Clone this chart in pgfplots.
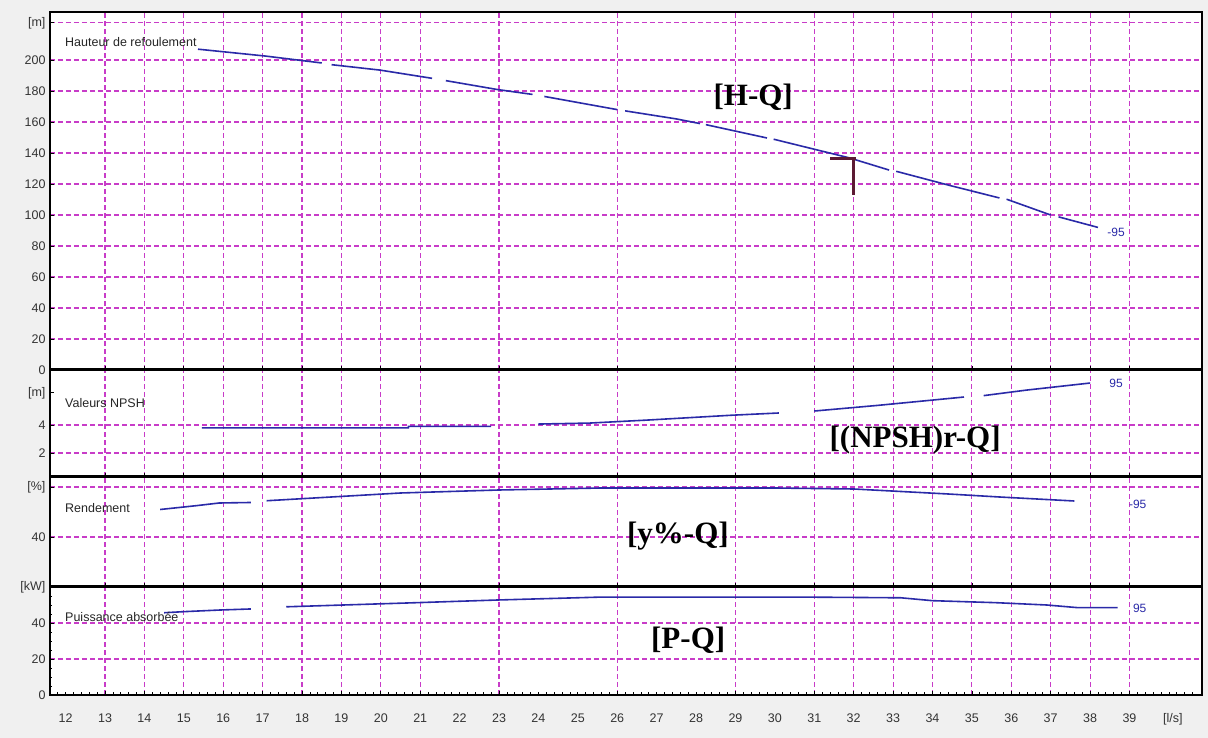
\documentclass[border=0pt]{standalone}
\usepackage{fontspec}
\setmainfont{Liberation Sans}
\newfontfamily\tnr{Liberation Serif}
\usepackage{pgfplots}
\pgfplotsset{compat=1.18}
\definecolor{curvec}{HTML}{2A2AA8}
\definecolor{gridm}{HTML}{C83CC8}
\definecolor{mrk}{HTML}{5C1A33}
\definecolor{bgc}{HTML}{F0F0F0}
\pgfplotsset{
  panel/.style={
    scale only axis, width=1152pt, xmin=11.604, xmax=40.84,
    anchor=south west,
    axis background/.style={fill=white},
    axis line style={line width=1.2pt,black},
    xtick={13,14,15,16,17,18,19,20,21,23,26,29,31,32,33,34,35,36,37,38,39},
    xticklabels={},
    xmajorgrids, ymajorgrids,
    major grid style={gridm, line width=1.1pt, dash pattern=on 5pt off 3pt},
    tick align=inside, tick pos=left,
    major tick length=4pt, minor tick length=2.5pt,
    tick style={black, line width=0.7pt},
    yticklabel style={font=\fontsize{12.5}{12.5}\selectfont, text=black!80, xshift=-1pt},
    /pgf/number format/assume math mode=true,
    unbounded coords=jump, clip=false,
  },
  crv/.style={curvec, line width=1.6pt, no markers},
}
\tikzset{
  ttl/.style={anchor=west, font=\fontsize{12.5}{12.5}\selectfont, text=black!85},
  big/.style={font=\tnr\bfseries\fontsize{31}{31}\selectfont},
  endl/.style={anchor=west, font=\fontsize{12}{12}\selectfont, text=curvec},
}
\begin{document}
\begin{tikzpicture}[x=1pt,y=1pt]
\fill[bgc] (0,0) rectangle (1208,738);
% ---------------- Power
\begin{axis}[panel, at={(50pt,43pt)}, height=108pt, ymin=0, ymax=60,
  ytick={0,20,40,60}, yticklabels={0,20,40,[kW]}, minor y tick num=3,
  minor xtick={11.8,12,...,40.6},
  extra x ticks={12,13,14,15,16,17,18,19,20,21,22,23,24,25,26,27,28,29,30,31,32,33,34,35,36,37,38,39,40.1},
  extra x tick labels={12,13,14,15,16,17,18,19,20,21,22,23,24,25,26,27,28,29,30,31,32,33,34,35,36,37,38,39,[l/s]},
  extra x tick style={grid=none, major tick length=0pt},
  xticklabel style={font=\fontsize{12.5}{12.5}\selectfont, text=black!80, yshift=-15pt}]
\addplot[crv] coordinates {(14.5,45.7) (15.0,46.3) (15.9,47.2) (16.7,47.8) (17.1,nan)
  (17.6,49) (20.5,51) (23.0,52.8) (25.6,54.4) (30.6,54.4) (32.0,54.2) (33.2,54) (34.0,52.4)
  (35.6,51.3) (36.9,50) (37.7,48.5) (38.7,48.5)};
\node[ttl] at (axis cs:11.9,43.3) {Puissance absorbée};
\node[endl] at (axis cs:39.0,48.3) {95};
\node[big] at (axis cs:27.8,30.6) {[P-Q]};
\end{axis}
% ---------------- Rendement
\begin{axis}[panel, at={(50pt,151pt)}, height=110pt, ymin=20, ymax=64,
  ytick={40,60}, yticklabels={40,[\%]}]
\addplot[crv] coordinates {(14.4,51) (15.3,52.5) (15.9,53.6) (16.7,53.8) (16.9,nan)
  (17.1,54.5) (20.5,57.6) (23.0,58.8) (25.6,59.6) (30.0,59.6) (32.0,59.2) (34.4,57.2)
  (35.7,56) (37.6,54.4)};
\node[ttl] at (axis cs:11.9,51.6) {Rendement};
\node[endl] at (axis cs:38.9,53.2) {-95};
\node[big] at (axis cs:27.54,40.4) {[y\%-Q]};
\end{axis}
% ---------------- NPSH
\begin{axis}[panel, at={(50pt,261pt)}, height=107pt, ymin=0.29, ymax=7.93,
  ytick={2,4}, yticklabels={2,4},
  extra y ticks={6.3}, extra y tick labels={[m]}, extra y tick style={grid=none}]
\addplot[crv] coordinates {(15.46,3.8) (20.7,3.8) (20.7,3.9) (22.8,3.9) (23.4,nan)
  (24.0,4.07) (25.3,4.14) (26.8,4.36) (28.9,4.7) (30.1,4.86) (30.5,nan)
  (31.0,5.0) (32.6,5.4) (34.8,6.0) (35.0,nan)
  (35.3,6.1) (36.4,6.5) (38.0,7.0)};
\node[ttl] at (axis cs:11.9,5.57) {Valeurs NPSH};
\node[endl] at (axis cs:38.4,7.0) {95};
\node[big] at (axis cs:33.56,2.93) {[(NPSH)r-Q]};
\end{axis}
% ---------------- H-Q
\begin{axis}[panel, at={(50pt,368pt)}, height=358pt, ymin=0, ymax=231,
  ytick={0,20,40,60,80,100,120,140,160,180,200,224},
  yticklabels={0,20,40,60,80,100,120,140,160,180,200,[m]}, minor y tick num=3]
\addplot[crv] coordinates {(15.36,207) (17.06,202.6) (18.5,198.1) (18.6,nan)
  (18.75,197) (19.98,193.5) (21.3,188.2) (21.5,nan)
  (21.65,186.7) (22.95,181) (23.85,177.8) (24.0,nan)
  (24.15,176.5) (26.0,168) (26.1,nan)
  (26.2,167.2) (27.5,162) (28.1,159) (28.2,nan)
  (28.25,158.3) (29.8,149.7) (29.9,nan)
  (29.97,148.9) (31.9,136.8) (32.9,129) (33.0,nan)
  (33.08,128.2) (34.45,119) (35.7,111) (35.8,nan)
  (35.88,110.2) (37.0,100) (37.1,nan)
  (37.2,98.8) (38.2,92)};
\addplot[mrk, line width=2.5pt, no markers] coordinates {(31.4,136.5) (32.05,136.5)};
\addplot[mrk, line width=2.5pt, no markers] coordinates {(32,137) (32,113)};
\node[ttl] at (axis cs:11.9,211.6) {Hauteur de refoulement};
\node[endl] at (axis cs:38.35,88.5) {-95};
\node[big] at (axis cs:29.45,176) {[H-Q]};
\end{axis}
% separators
\draw[line width=3pt] (50,151) -- (1202,151);
\draw[line width=3pt] (50,261) -- (1202,261);
\draw[line width=3pt] (50,368) -- (1202,368);
\end{tikzpicture}
\end{document}
